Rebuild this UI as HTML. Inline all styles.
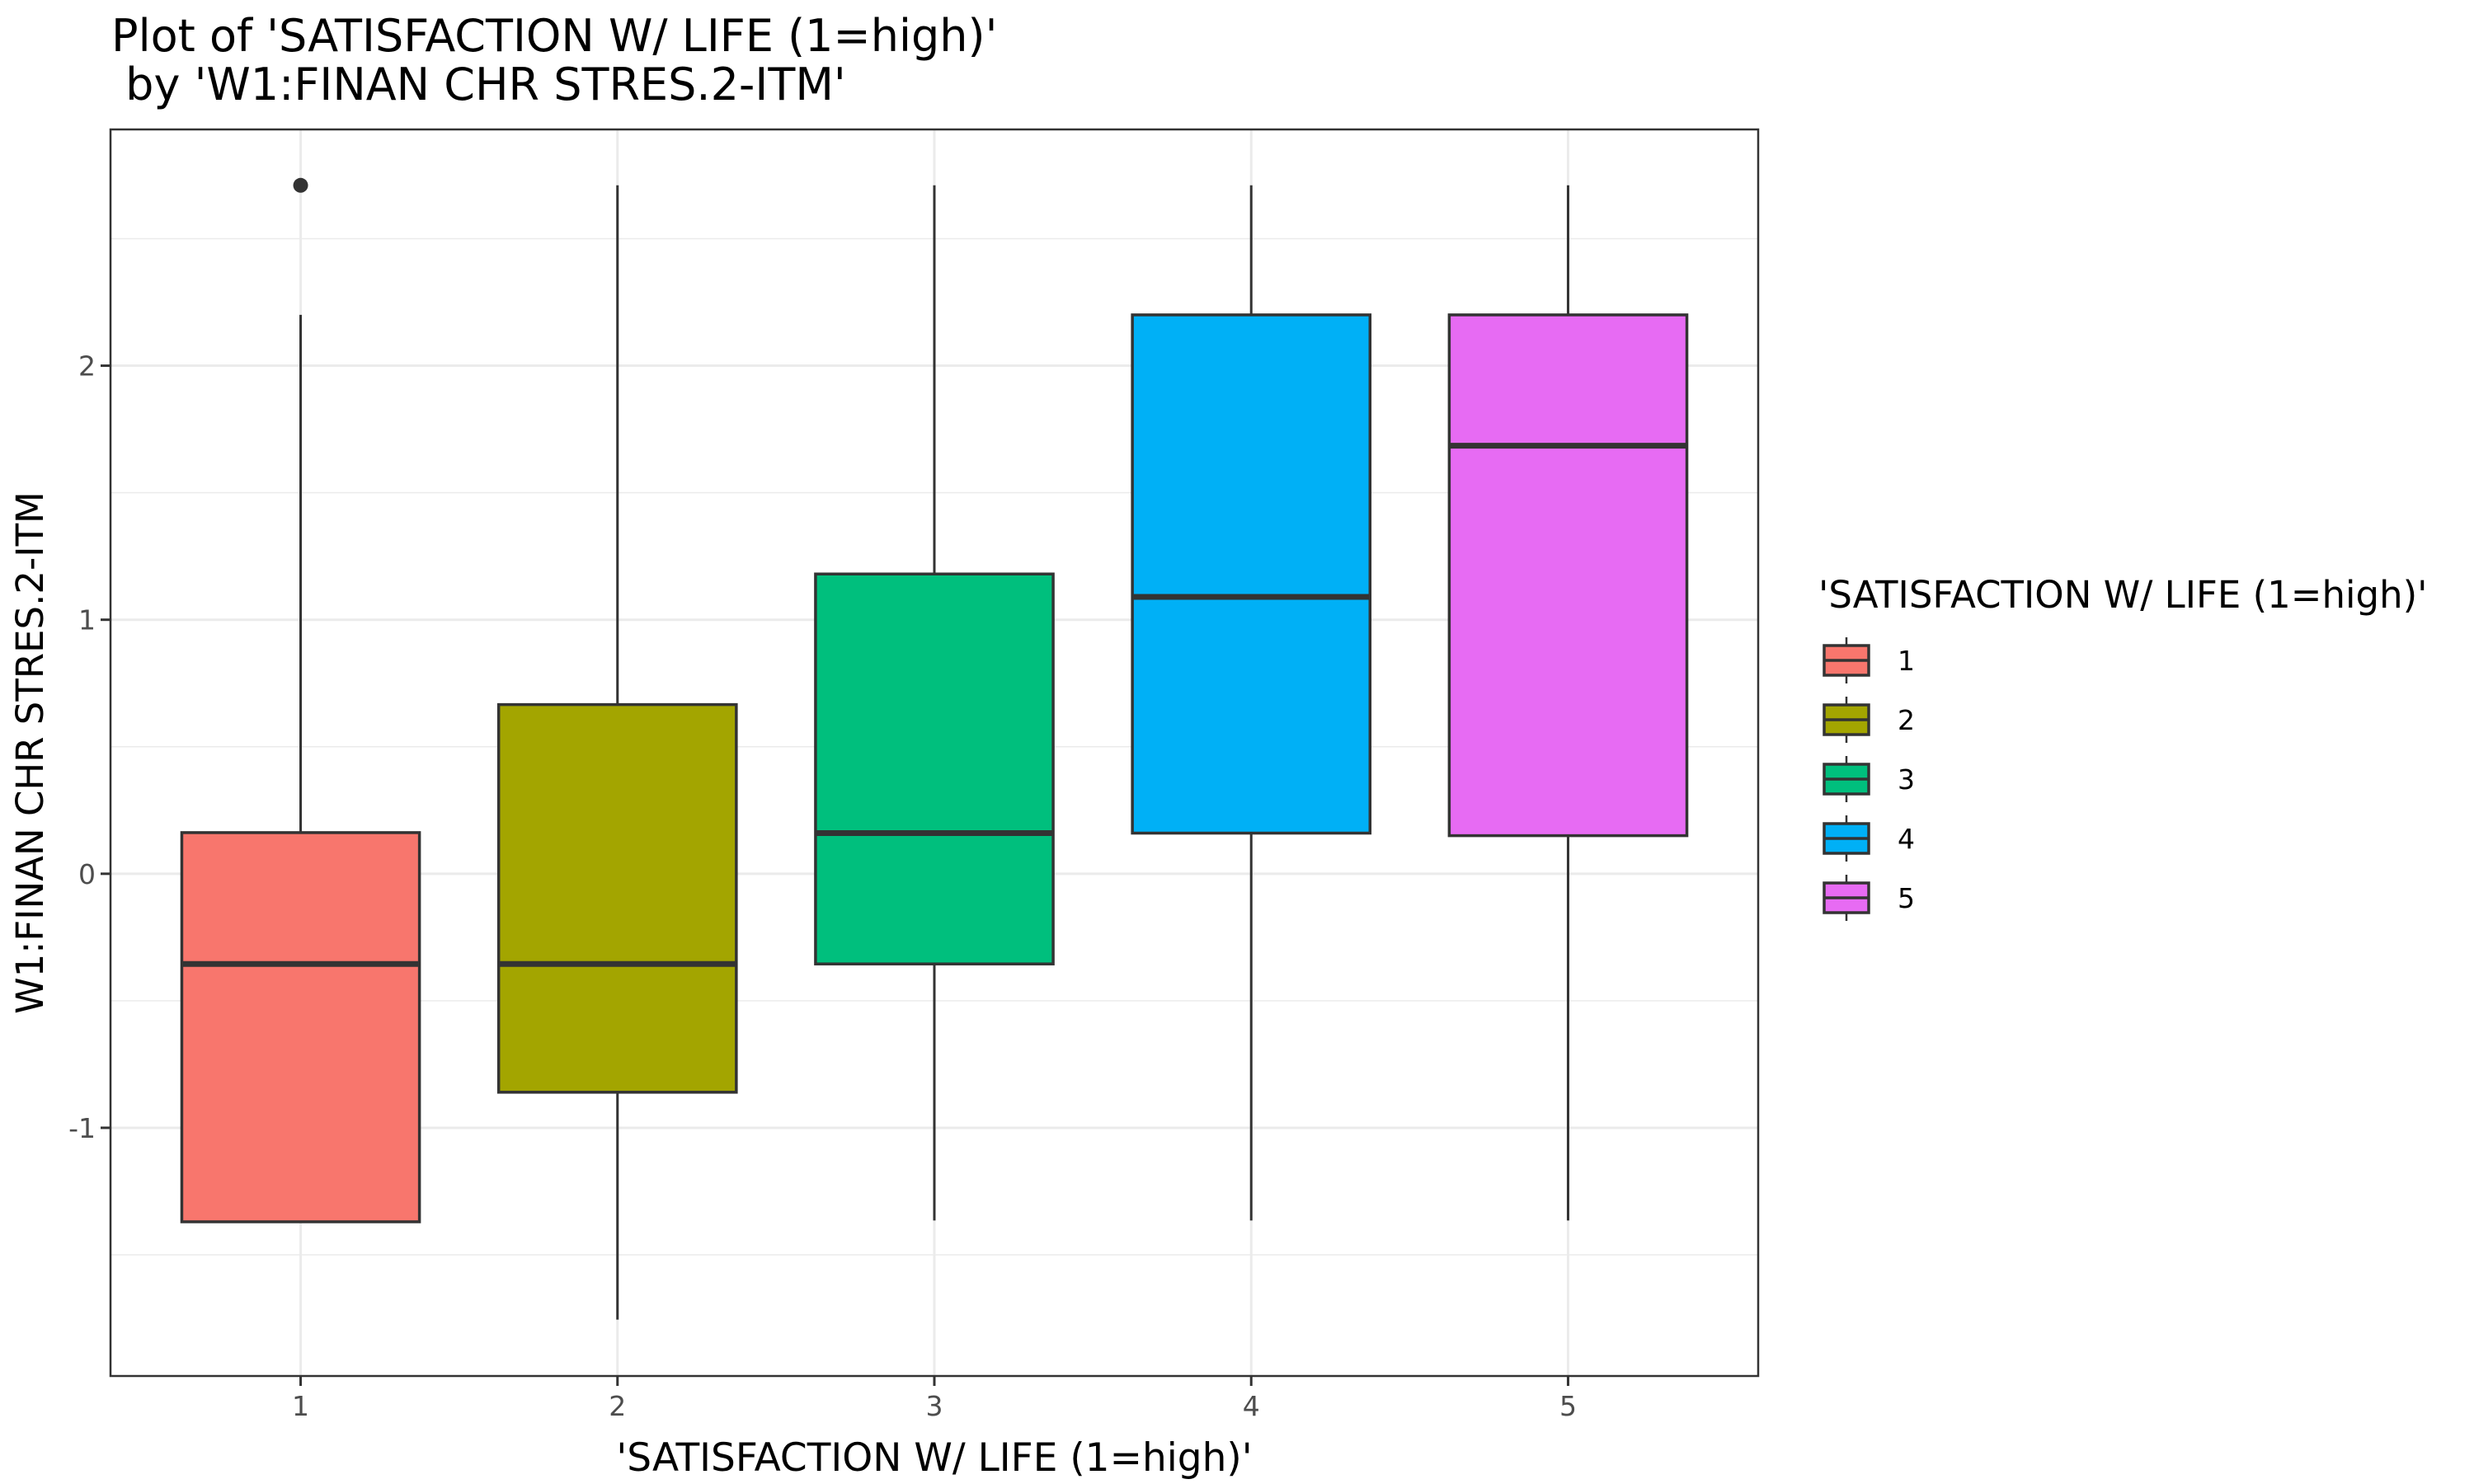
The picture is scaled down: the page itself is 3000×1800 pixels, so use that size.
<!DOCTYPE html>
<html><head><meta charset="utf-8"><style>
html,body{margin:0;padding:0;background:#fff;}
svg{display:block;font-family:"DejaVu Sans","Liberation Sans",sans-serif;}
</style></head><body>
<svg id="chart" width="3000" height="1800" viewBox="0 0 3000 1800" xmlns="http://www.w3.org/2000/svg">
<rect x="0" y="0" width="3000" height="1800" fill="#fff"/>
<text x="135" y="62" font-size="54" fill="#000">Plot of 'SATISFACTION W/ LIFE (1=high)'</text>
<text x="135" y="121" font-size="54" fill="#000" xml:space="preserve"> by 'W1:FINAN CHR STRES.2-ITM'</text>
<g id="grid"></g>
<g id="boxes"></g>
<rect x="134" y="157" width="1998" height="1512" fill="none" stroke="#333" stroke-width="2.5"/>
<g id="axes"></g>
<text x="1133" y="1784" font-size="47" text-anchor="middle" fill="#000">'SATISFACTION W/ LIFE (1=high)'</text>
<text transform="translate(52,913) rotate(-90)" font-size="45" text-anchor="middle" fill="#000">W1:FINAN CHR STRES.2-ITM</text>
<g id="legend">
<text x="2205" y="737" font-size="45" fill="#000">'SATISFACTION W/ LIFE (1=high)'</text>
</g>
</svg>
<script>
const categories = ["1","2","3","4","5"];
const lowerWhisker = [-1.37, -1.755, -1.365, -1.365, -1.365];
const q1Values = [-1.37, -0.86, -0.355, 0.16, 0.15];
const medianValues = [-0.355, -0.355, 0.16, 1.09, 1.685];
const q3Values = [0.162, 0.666, 1.18, 2.20, 2.20];
const upperWhisker = [2.20, 2.71, 2.71, 2.71, 2.71];
const outlierValues = [[2.71], [], [], [], []];
const fillColors = ["#F8766D","#A3A500","#00BF7D","#00B0F6","#E76BF3"];
const yTickValues = [-1, 0, 1, 2];
const yTickLabels = ["-1","0","1","2"];
const yMinorValues = [-1.5, -0.5, 0.5, 1.5, 2.5];

const NS = "http://www.w3.org/2000/svg";
const PL = 134, PR = 2132, PT = 157, PB = 1669;
const yMin = -1.977, yMax = 2.93;
function yScale(v){ return PB - (v - yMin) / (yMax - yMin) * (PB - PT); }
function xScale(i){ return PL + (i + 1 - 0.4) / 5.2 * (PR - PL); }
const bandW = (PR - PL) / 5.2;
function mk(tag, attrs, parent){
  const e = document.createElementNS(NS, tag);
  for (const k in attrs) e.setAttribute(k, attrs[k]);
  parent.appendChild(e);
  return e;
}
const grid = document.getElementById('grid');
const boxes = document.getElementById('boxes');
const axes = document.getElementById('axes');
const legend = document.getElementById('legend');

yMinorValues.forEach(v => {
  const l = mk('line', {x1:PL, x2:PR, y1:yScale(v), y2:yScale(v), stroke:'#ebebeb', 'stroke-width':1.5}, grid);
  
  
});
yTickValues.forEach(v => {
  const l = mk('line', {x1:PL, x2:PR, y1:yScale(v), y2:yScale(v), stroke:'#ebebeb', 'stroke-width':3}, grid);
  
  
});
categories.forEach((c, i) => {
  const l = mk('line', {x1:xScale(i), x2:xScale(i), y1:PT, y2:PB, stroke:'#ebebeb', 'stroke-width':3}, grid);
  
  
});

categories.forEach((c, i) => {
  const g = mk('g', {}, boxes);
  
  
  const cx = xScale(i), w = bandW * 0.75;
  const wl1 = mk('line', {x1:cx, x2:cx, y1:yScale(upperWhisker[i]), y2:yScale(q3Values[i]), stroke:'#333', 'stroke-width':3}, g);
  
  
  const wl2 = mk('line', {x1:cx, x2:cx, y1:yScale(q1Values[i]), y2:yScale(lowerWhisker[i]), stroke:'#333', 'stroke-width':3}, g);
  
  
  const r = mk('rect', {x:cx - w/2, y:yScale(q3Values[i]), width:w, height:yScale(q1Values[i]) - yScale(q3Values[i]), fill:fillColors[i], stroke:'#333', 'stroke-width':3.5}, g);
  
  
  const m = mk('line', {x1:cx - w/2, x2:cx + w/2, y1:yScale(medianValues[i]), y2:yScale(medianValues[i]), stroke:'#333', 'stroke-width':7}, g);
  
  
  outlierValues[i].forEach(v => {
    const o = mk('circle', {cx:cx, cy:yScale(v), r:9, fill:'#333'}, g);
    
    
  });
  const t = mk('line', {x1:cx, x2:cx, y1:PB, y2:PB + 12, stroke:'#333', 'stroke-width':3}, axes);
  
  
  const tl = mk('text', {x:cx, y:1717, 'font-size':33, 'text-anchor':'middle', fill:'#4d4d4d'}, axes);
  tl.textContent = c;
  
  
});

yTickValues.forEach((v, i) => {
  const t = mk('line', {x1:PL - 12, x2:PL, y1:yScale(v), y2:yScale(v), stroke:'#333', 'stroke-width':3}, axes);
  
  
  const tl = mk('text', {x:PL - 18, y:yScale(v) + 12, 'font-size':33, 'text-anchor':'end', fill:'#4d4d4d'}, axes);
  tl.textContent = yTickLabels[i];
  
  
});

categories.forEach((c, i) => {
  const g = mk('g', {}, legend);
  
  
  const cy = 801 + i * 72, x0 = 2212, x1 = 2266, cx = (x0 + x1) / 2;
  const wl = mk('line', {x1:cx, x2:cx, y1:cy - 28, y2:cy + 28, stroke:'#333', 'stroke-width':2.5}, g);
  
  
  const r = mk('rect', {x:x0, y:cy - 18, width:x1 - x0, height:36, fill:fillColors[i], stroke:'#333', 'stroke-width':3.5}, g);
  
  
  const m = mk('line', {x1:x0, x2:x1, y1:cy, y2:cy, stroke:'#333', 'stroke-width':3.5}, g);
  
  
  const tl = mk('text', {x:2301, y:cy + 12, 'font-size':33, fill:'#000'}, g);
  tl.textContent = c;
  
  
});
</script>
</body></html>
